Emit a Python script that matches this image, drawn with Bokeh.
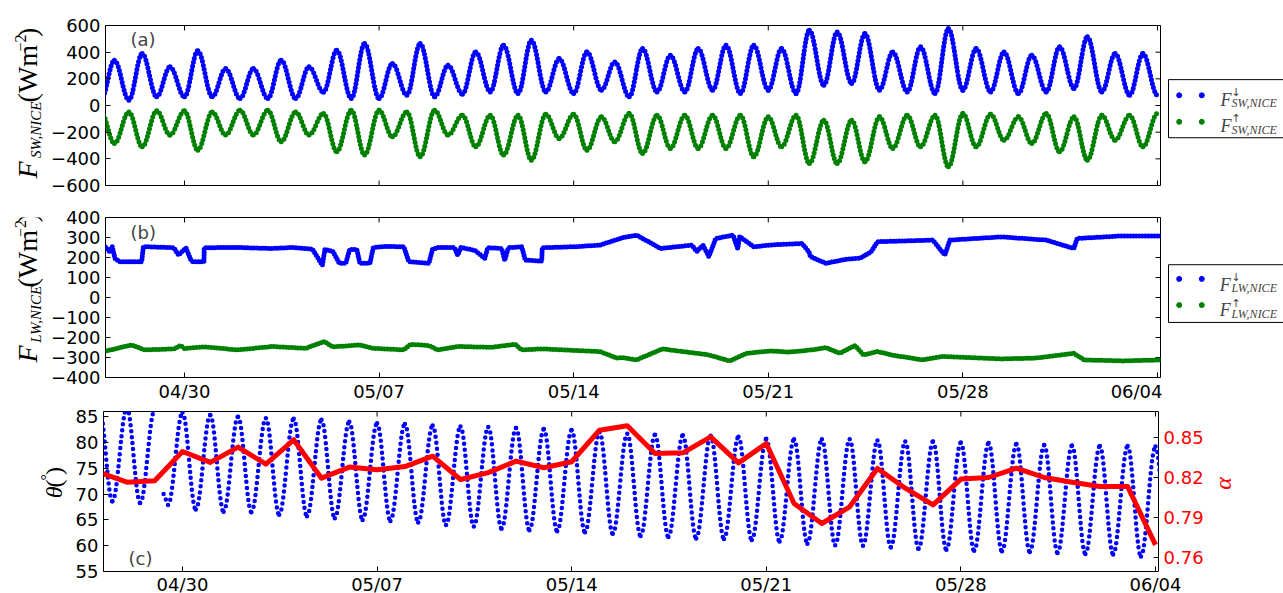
import math
import datetime as dt
from bokeh.plotting import figure
from bokeh.models import (Range1d, LinearAxis, DatetimeAxis, FixedTicker,
                          DatetimeTickFormatter, Label, ColumnDataSource)
from bokeh.layouts import column, row
from bokeh.embed import file_html
from bokeh.resources import INLINE

# ------------------------------------------------------------------ data
DAY0 = dt.datetime(2015, 4, 27)            # first day (00:00)
VIEW_START = dt.datetime(2015, 4, 27, 3, 48)
VIEW_END = dt.datetime(2015, 6, 4, 2, 37)
NOON_HOUR = 11.5                           # hour of daily solar maximum

TICK_DATES = [dt.datetime(2015, 4, 30), dt.datetime(2015, 5, 7), dt.datetime(2015, 5, 14),
              dt.datetime(2015, 5, 21), dt.datetime(2015, 5, 28), dt.datetime(2015, 6, 4)]
TICK_LABELS = ["04/30", "05/07", "05/14", "05/21", "05/28", "06/04"]

# (a) shortwave, daily extremes (night value at 00:00, noon value at 11:30)
SW_DOWN_NIGHT = [40, 40, 65, 65, 65, 52, 52, 52, 100, 52, 52, 77, 65, 85,
                 102, 90, 102, 90, 115, 65, 102, 102, 115, 90,
                 115, 90, 152, 165, 115, 102, 90, 115, 102, 90, 102,
                 127, 102, 77, 77]
SW_DOWN_NOON = [340, 390, 290, 410, 277, 277, 340, 290, 415, 465, 315, 465, 302, 402,
                452, 490, 352, 402, 327, 427, 377, 427, 452, 452,
                427, 565, 552, 540, 402, 440, 577, 427, 402, 377, 440,
                515, 390, 390]
SW_UP_NIGHT = [-50, -48, -40, -40, -48, -35, -35, -48, -60, -35, -35, -48, -35, -73,
               -73, -73, -65, -65, -85, -60, -73, -73, -73, -73,
               -85, -73, -110, -110, -85, -73, -73, -60, -65, -85, -60,
               -85, -73, -73, -60]
SW_UP_NOON = [-285, -310, -222, -335, -222, -222, -272, -222, -347, -372, -235, -385, -222, -310,
              -372, -410, -247, -335, -272, -360, -322, -322, -322, -385,
              -310, -435, -435, -422, -322, -310, -460, -310, -260, -285, -347,
              -410, -260, -310]

# (b) longwave, breakpoints (days after DAY0) and values
LW_DOWN_T = [0.15, 0.30, 0.40, 0.50, 0.67, 1.46, 1.52, 2.62, 2.79, 3.05, 3.23, 3.30, 3.70, 3.71,
             4.92, 6.14, 6.86, 7.60, 7.96, 8.05, 8.33, 8.57, 8.80, 8.94, 9.20, 9.31, 9.67, 9.79,
             10.15, 10.89, 11.07, 11.79, 11.92, 12.10, 12.71, 12.83, 12.94, 13.44, 13.80, 13.91,
             14.41, 14.52, 14.65, 15.13, 15.26, 15.85, 15.87, 17.08, 17.94, 18.79, 19.26, 20.13,
             21.25, 21.43, 21.65, 21.86, 22.11, 22.73, 22.90, 22.97, 23.47, 24.34, 25.21, 25.46,
             25.52, 26.07, 26.82, 27.31, 27.69, 27.93, 29.92, 30.35, 30.53, 32.39, 34.00, 34.99,
             35.11, 36.73, 38.20]
LW_DOWN = [254, 230, 254, 196, 179, 179, 254, 249, 212, 249, 187, 179, 179, 249,
           250, 245, 250, 242, 162, 240, 232, 171, 171, 240, 240, 171, 171, 249,
           255, 254, 179, 171, 240, 250, 250, 212, 250, 236, 196, 249,
           245, 187, 249, 254, 187, 182, 249, 254, 262, 300, 312, 245,
           262, 230, 262, 205, 295, 312, 245, 305, 254, 265, 270, 229,
           204, 171, 192, 197, 227, 279, 287, 212, 287, 303, 287, 245,
           295, 308, 308]
LW_UP_T = [0.10, 1.09, 1.57, 2.62, 2.86, 3.00, 3.69, 4.92, 6.14, 7.36, 8.03, 8.33, 9.31, 9.79,
           10.89, 11.13, 11.79, 12.10, 12.83, 14.05, 14.90, 15.13, 15.87, 17.09, 17.94, 18.55,
           18.76, 19.26, 20.19, 21.86, 22.61, 23.23, 24.09, 24.70, 25.58, 26.07, 26.57, 27.12,
           27.43, 27.93, 28.43, 29.54, 30.27, 32.39, 33.62, 34.99, 35.36, 36.73, 38.20]
LW_UP = [-270, -237, -262, -257, -240, -255, -247, -262, -245, -254, -220, -247, -237, -254,
         -262, -234, -240, -262, -245, -249, -234, -262, -257, -265, -270, -303,
         -300, -312, -257, -287, -317, -279, -267, -273, -262, -250, -279, -240,
         -287, -270, -287, -312, -295, -307, -303, -279, -312, -317, -312]

# (c) solar zenith angle extremes and albedo (daily)
THETA_NIGHT = [87.0, 86.7, 86.3, 85.8, 85.3, 85.0, 84.7, 84.6, 84.4, 84.0, 83.7, 83.6, 83.3, 83.1,
               83.0, 82.8, 82.6, 82.4, 82.0, 81.7, 81.5, 81.4, 81.3, 81.1,
               80.7, 80.6, 80.6, 80.6, 80.4, 80.2, 80.2, 80.0, 79.9, 79.7, 79.5,
               79.4, 79.3, 79.3, 79.2]
THETA_NOON = [68.6, 68.25, 67.9, 67.0, 66.6, 66.5, 66.0, 65.7, 65.3, 65.0, 64.8, 64.5, 64.0, 63.7,
              63.3, 63.0, 62.8, 62.6, 62.3, 61.9, 61.7, 61.4, 61.3, 61.1,
              60.8, 60.4, 60.1, 60.0, 59.7, 59.4, 59.2, 59.0, 58.9, 58.8, 58.6,
              58.4, 58.3, 57.9, 57.8]
THETA_GAP = (dt.datetime(2015, 4, 29, 1, 12), 85.5, dt.datetime(2015, 4, 29, 7, 40), 70.0)
ALPHA = [0.824, 0.8165, 0.8175, 0.8395, 0.8313, 0.8428, 0.830, 0.8483, 0.8195, 0.8278,
         0.8258, 0.8282, 0.836, 0.8185, 0.8237, 0.8323, 0.8273, 0.8318, 0.8555, 0.8588,
         0.838, 0.8385, 0.8505, 0.831, 0.8455, 0.8005, 0.7855, 0.798, 0.8268, 0.812,
         0.7995, 0.8188, 0.820, 0.827, 0.820, 0.8165, 0.8132, 0.8132, 0.7695]

SW_TICKS = [-600, -400, -200, 0, 200, 400, 600]
LW_TICKS = [-400, -300, -200, -100, 0, 100, 200, 300, 400]
THETA_TICKS = [55, 60, 65, 70, 75, 80, 85]
ALPHA_TICKS = [0.76, 0.79, 0.82, 0.85]

BLUE, GREEN, RED = "#0000ff", "#008000", "#ff0000"

# ------------------------------------------------------------------ helpers
EPOCH = dt.datetime(1970, 1, 1)


def ms(d):
    return (d - EPOCH).total_seconds() * 1000.0


TICK_MS = [ms(d) for d in TICK_DATES]
X0, X1 = ms(VIEW_START), ms(VIEW_END)
FW, FH = 1055, 160
LAB_W = 48          # width of the y-label strip for panels a, b
LAB_WC = 72         # width of the y-label strip for panel c
LEG_W = 123
RIGHT_C = 46
A = 1.0 - 2.0 / math.pi   # control-point fraction for a smooth half-cycle
SERIF = "Liberation Serif"


def cycle_knots(night, noon):
    ks = []
    for k, v in enumerate(night):
        ks.append((ms(DAY0 + dt.timedelta(days=k)), v))
        if k < len(noon):
            ks.append((ms(DAY0 + dt.timedelta(days=k, hours=NOON_HOUR)), noon[k]))
    return ks


def bezier_data(runs):
    d = dict(x0=[], y0=[], x1=[], y1=[], cx0=[], cy0=[], cx1=[], cy1=[])
    for knots in runs:
        for (ta, va), (tb, vb) in zip(knots[:-1], knots[1:]):
            dx = tb - ta
            d["x0"].append(ta); d["y0"].append(va)
            d["x1"].append(tb); d["y1"].append(vb)
            d["cx0"].append(ta + A * dx); d["cy0"].append(va)
            d["cx1"].append(tb - A * dx); d["cy1"].append(vb)
    return ColumnDataSource(d)


def draw_cycle(p, runs, color, width, dash):
    p.bezier(x0="x0", y0="y0", x1="x1", y1="y1", cx0="cx0", cy0="cy0", cx1="cx1", cy1="cy1",
             source=bezier_data(runs), line_color=color, line_width=width,
             line_dash=dash, line_cap="round")


def panel(y0, y1, left, top, bottom, right):
    p = figure(frame_width=FW, frame_height=FH, min_border_left=left, min_border_right=right,
               min_border_top=top, min_border_bottom=bottom,
               x_range=Range1d(X0, X1), y_range=Range1d(y0, y1),
               x_axis_type=None, y_axis_type=None, output_backend="svg",
               toolbar_location=None, background_fill_color="white",
               border_fill_color="white")
    p.outline_line_color = "black"
    p.outline_line_width = 1
    p.outline_line_alpha = 1.0
    return p


def style(ax, color="black", standoff=5):
    ax.axis_line_color = None
    ax.major_tick_in = 5
    ax.major_tick_out = 0
    ax.major_tick_line_color = "black"
    ax.minor_tick_line_color = None
    ax.major_label_text_font = "DejaVu Sans"
    ax.major_label_text_font_size = "18px"
    ax.major_label_text_color = color
    ax.major_label_standoff = standoff


def x_axis(p, standoff):
    fmt = "%m/%d"
    ax = DatetimeAxis(ticker=FixedTicker(ticks=TICK_MS),
                      formatter=DatetimeTickFormatter(days=fmt, months=fmt, years=fmt,
                                                      hours=fmt, hourmin=fmt))
    ax.major_label_overrides = {t: lab for t, lab in zip(TICK_MS, TICK_LABELS)}
    style(ax, standoff=standoff)
    p.add_layout(ax, "below")


def y_axis(p, ticks, place, color="black", range_name="default", fmt=None):
    ax = LinearAxis(ticker=FixedTicker(ticks=ticks), y_range_name=range_name)
    if fmt is None:
        ax.major_label_overrides = {t: str(t).replace("-", "\u2212") for t in ticks}
    else:
        ax.major_label_overrides = {t: fmt.format(t) for t in ticks}
    style(ax, color=color, standoff=5)
    p.add_layout(ax, place)


def frame_ticks(p, y_lo, y_hi, yticks=None, bottom=False):
    """Inward ticks on the unlabeled sides of the frame (top, right, optionally bottom)."""
    n = len(TICK_MS)
    p.ray(x=TICK_MS, y=[y_hi] * n, length=5, length_units="screen", angle=-math.pi / 2,
          line_color="black", line_width=1)
    if bottom:
        p.ray(x=TICK_MS, y=[y_lo] * n, length=5, length_units="screen", angle=math.pi / 2,
              line_color="black", line_width=1)
    if yticks is not None:
        p.ray(x=[X1] * len(yticks), y=yticks, length=5, length_units="screen", angle=math.pi,
              line_color="black", line_width=1)


def tag(p, text, y, baseline="top"):
    p.add_layout(Label(x=25, y=y, x_units="screen", y_units="screen", text=text,
                       text_font="DejaVu Sans", text_font_size="18px",
                       text_align="left", text_baseline=baseline))


def blank_fig(w, h, y_down=True):
    p = figure(width=w, height=h, x_range=Range1d(0, w),
               y_range=Range1d(h, 0) if y_down else Range1d(0, h),
               min_border=0, x_axis_type=None, y_axis_type=None, output_backend="svg",
               toolbar_location=None, background_fill_color="white",
               border_fill_color="white")
    p.outline_line_color = None
    return p


def label_strip(w, h, row_top, pieces):
    """Vertical (rotated) axis title made of text pieces, given by their centres."""
    p = blank_fig(w, h, y_down=False)
    for text, cx, cy_img, size, style_, color in pieces:
        p.add_layout(Label(x=cx, y=h - (cy_img - row_top), text=text, angle=math.pi / 2,
                           text_font=SERIF, text_font_size=f"{size}px",
                           text_font_style=style_, text_color=color,
                           text_align="center", text_baseline="middle"))
    return p


def flux_pieces(sub, y_start):
    return [("F", 27, y_start - 8.5, 28, "italic", "black"),
            (sub, 35, y_start - 59, 15, "italic", "black"),
            ("(Wm", 27, y_start - 129.5, 28, "normal", "black"),
            ("\u22122", 20, y_start - 168, 16, "normal", "black"),
            (")", 27, y_start - 181.5, 28, "normal", "black")]


def legend_fig(h, box, entries):
    p = blank_fig(LEG_W, h)
    p.quad(left=[6], right=[LEG_W + 30], top=[box[0]], bottom=[box[1]],
           fill_color="white", line_color="black", line_width=1)
    for color, ydot, arrow, sub, yF, yA, yS, xF in entries:
        p.scatter([16.7, 39.3], [ydot, ydot], size=5, color=color)
        p.add_layout(Label(x=xF, y=yF, text="F", text_font=SERIF,
                           text_font_style="italic", text_font_size="18px",
                           text_baseline="alphabetic"))
        p.add_layout(Label(x=69, y=yA, text=arrow, text_font="DejaVu Sans",
                           text_font_size="11px", text_baseline="alphabetic"))
        p.add_layout(Label(x=69, y=yS, text=sub, text_font=SERIF,
                           text_font_style="italic", text_font_size="12px",
                           text_baseline="alphabetic"))
    return p


LEFT_AB = 103 - LAB_W
LEFT_C = 103 - LAB_WC

# ------------------------------------------------------------------ panel (a)
H_A = 201
pa = panel(-600, 600, LEFT_AB, top=25, bottom=16, right=2)
y_axis(pa, SW_TICKS, "left")
frame_ticks(pa, -600, 600, SW_TICKS, bottom=True)
draw_cycle(pa, [cycle_knots(SW_UP_NIGHT, SW_UP_NOON)], GREEN, 5, "0 4")
draw_cycle(pa, [cycle_knots(SW_DOWN_NIGHT, SW_DOWN_NOON)], BLUE, 5, "0 4")
tag(pa, "(a)", FH - 3)
sa = label_strip(LAB_W, H_A, 0, flux_pieces("SW,NICE", 190))
la = legend_fig(H_A, (68, 141), [
    (BLUE, 87.7, "\u2193", "SW,NICE", 93.3, 84, 97.3, 58),
    (GREEN, 121, "\u2191", "SW,NICE", 126.7, 117.3, 130.7, 58),
])

# ------------------------------------------------------------------ panel (b)
H_B = 202
pb = panel(-400, 400, LEFT_AB, top=16, bottom=26, right=2)
x_axis(pb, 3)
y_axis(pb, LW_TICKS, "left")
frame_ticks(pb, -400, 400, LW_TICKS)
lw_dn_x = [ms(DAY0) + t * 86400000.0 for t in LW_DOWN_T]
lw_up_x = [ms(DAY0) + t * 86400000.0 for t in LW_UP_T]
pb.line(lw_up_x, LW_UP, line_color=GREEN, line_width=5, line_dash="0 3",
        line_cap="round", line_join="round")
pb.line(lw_dn_x, LW_DOWN, line_color=BLUE, line_width=5, line_dash="0 3",
        line_cap="round", line_join="round")
tag(pb, "(b)", FH - 4)
sb = label_strip(LAB_W, H_B, H_A, flux_pieces("LW,NICE", 383))
lb = legend_fig(H_B, (60, 133.3), [
    (BLUE, 78, "\u2193", "LW,NICE", 85.7, 75.7, 89, 57.3),
    (GREEN, 111.3, "\u2191", "LW,NICE", 117.3, 109.7, 122.3, 57.3),
])

# ------------------------------------------------------------------ panel (c)
H_C = 190
pc = panel(55, 86, LEFT_C, top=7, bottom=23, right=RIGHT_C)
pc.extra_y_ranges = {"alpha": Range1d(0.7495, 0.8695)}
x_axis(pc, 2)
y_axis(pc, THETA_TICKS, "left")
y_axis(pc, ALPHA_TICKS, "right", color=RED, range_name="alpha", fmt="{:.2f}")
frame_ticks(pc, 55, 86)

theta_knots = cycle_knots(THETA_NIGHT, THETA_NOON)
g0, gv0, g1, gv1 = THETA_GAP
run1 = [k for k in theta_knots if k[0] < ms(g0)] + [(ms(g0), gv0)]
run2 = [(ms(g1), gv1)] + [k for k in theta_knots if k[0] > ms(g1)]
draw_cycle(pc, [run1, run2], BLUE, 4.5, "0 6")

alpha_x = [ms(DAY0 + dt.timedelta(days=k)) for k in range(len(ALPHA))]
pc.line(alpha_x, ALPHA, y_range_name="alpha", line_color=RED, line_width=5,
        line_join="round")
tag(pc, "(c)", 24)

ROW_C = H_A + H_B
sc = label_strip(LAB_WC, H_C, ROW_C, [
    ("\u03b8", 53, 501, 24, "italic", "black"),
    ("(", 53, 490, 24, "normal", "black"),
    ("\u00b0", 46, 482.5, 16, "normal", "black"),
    (")", 53, 475, 24, "normal", "black"),
])
X_ALPHA = LAB_WC + LEFT_C + FW + RIGHT_C
W_ALPHA = 1283 - X_ALPHA
ac = label_strip(W_ALPHA, H_C, ROW_C, [
    ("\u03b1", 1220 - X_ALPHA, 490, 24, "italic", RED),
])

layout = column(row(sa, pa, la), row(sb, pb, lb), row(sc, pc, ac))
open("out.html", "w").write(file_html(layout, INLINE))
